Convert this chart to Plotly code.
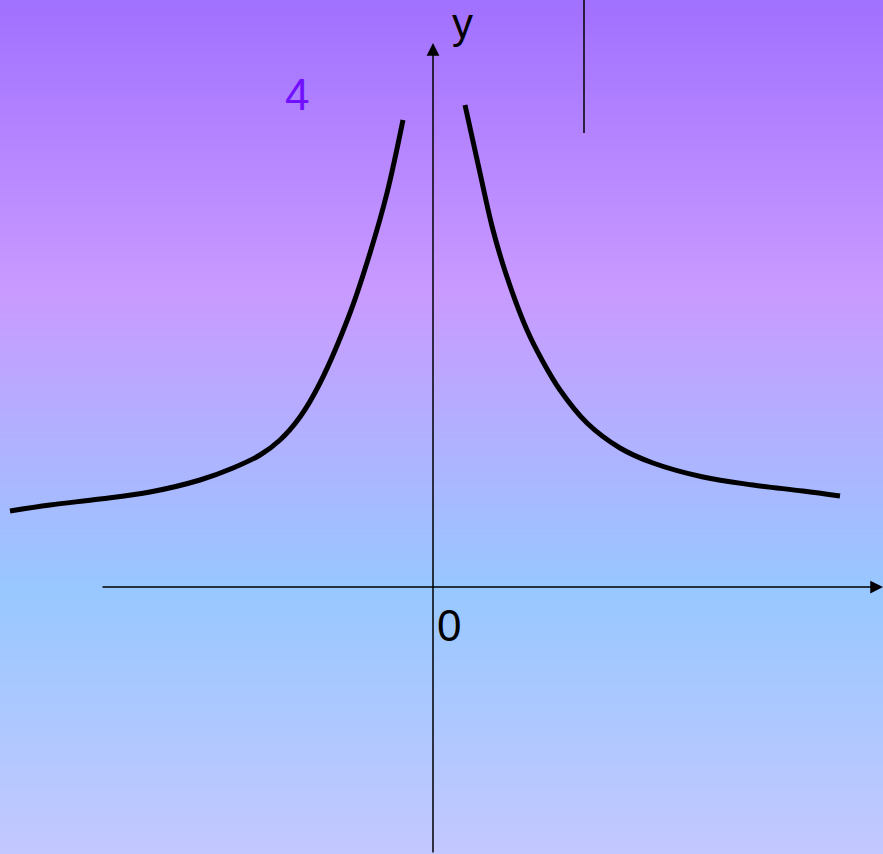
import plotly.graph_objects as go

# curve (1 unit = 100 px, origin where the axes cross)
left_x = [-4.23, -3.83, -3.33, -2.83, -2.33, -2.00, -1.73, -1.53, -1.33, -1.13, -0.83, -0.63, -0.46, -0.30]
left_y = [0.76, 0.82, 0.88, 0.95, 1.07, 1.19, 1.32, 1.47, 1.70, 2.04, 2.74, 3.34, 3.94, 4.67]
right_x = [0.32, 0.47, 0.60, 0.74, 0.94, 1.09, 1.27, 1.54, 1.87, 2.20, 2.70, 3.20, 3.70, 4.07]
right_y = [4.82, 4.14, 3.57, 3.10, 2.57, 2.27, 1.97, 1.64, 1.39, 1.24, 1.10, 1.02, 0.96, 0.91]

# background gradient stops
bg_y = [-2.7, -0.03, 2.97, 5.9]
bg_colors = ['#c4c8ff', '#98c8ff', '#c99aff', '#a070ff']

x_range = [-4.33, 4.50]
y_range = [-2.67, 5.87]

fig = go.Figure()

fig.add_trace(go.Heatmap(
    x=x_range, y=bg_y, z=[[i, i] for i in range(len(bg_y))],
    colorscale=[[i / (len(bg_colors) - 1), c] for i, c in enumerate(bg_colors)],
    zmin=0, zmax=len(bg_y) - 1, zsmooth='best', showscale=False, hoverinfo='skip'))

for xs, ys in [(left_x, left_y), (right_x, right_y)]:
    fig.add_trace(go.Scatter(x=xs, y=ys, mode='lines',
                             line=dict(color='black', width=5, shape='spline', smoothing=1)))

# axes with arrows
fig.add_annotation(x=4.50, y=0, ax=-3.32, ay=0, xref='x', yref='y', axref='x', ayref='y',
                   showarrow=True, arrowhead=2, arrowsize=1.7, arrowwidth=1.5, arrowcolor='black', text='')
fig.add_annotation(x=0, y=5.44, ax=0, ay=-2.67, xref='x', yref='y', axref='x', ayref='y',
                   showarrow=True, arrowhead=2, arrowsize=1.7, arrowwidth=1.5, arrowcolor='black', text='')
fig.add_shape(type='line', x0=1.51, x1=1.51, y0=5.87, y1=4.54, line=dict(color='black', width=1.5))

font = 'Liberation Sans, Arial, sans-serif'
fig.add_annotation(x=0.29, y=5.64, text='y', showarrow=False, font=dict(size=42, color='black', family=font))
fig.add_annotation(x=0.16, y=-0.38, text='0', showarrow=False, font=dict(size=44, color='black', family=font))
fig.add_annotation(x=-1.36, y=4.93, text='4', showarrow=False, font=dict(size=44, color='#7010ff', family=font))

fig.update_layout(width=883, height=854, margin=dict(l=0, r=0, t=0, b=0),
                  showlegend=False, paper_bgcolor='#b4b0ff', plot_bgcolor='#b4b0ff',
                  xaxis=dict(range=x_range, visible=False, fixedrange=True),
                  yaxis=dict(range=y_range, visible=False, fixedrange=True))

fig.write_html("out.html", config={'displayModeBar': False},
               post_script="document.body.style.margin='0';")
